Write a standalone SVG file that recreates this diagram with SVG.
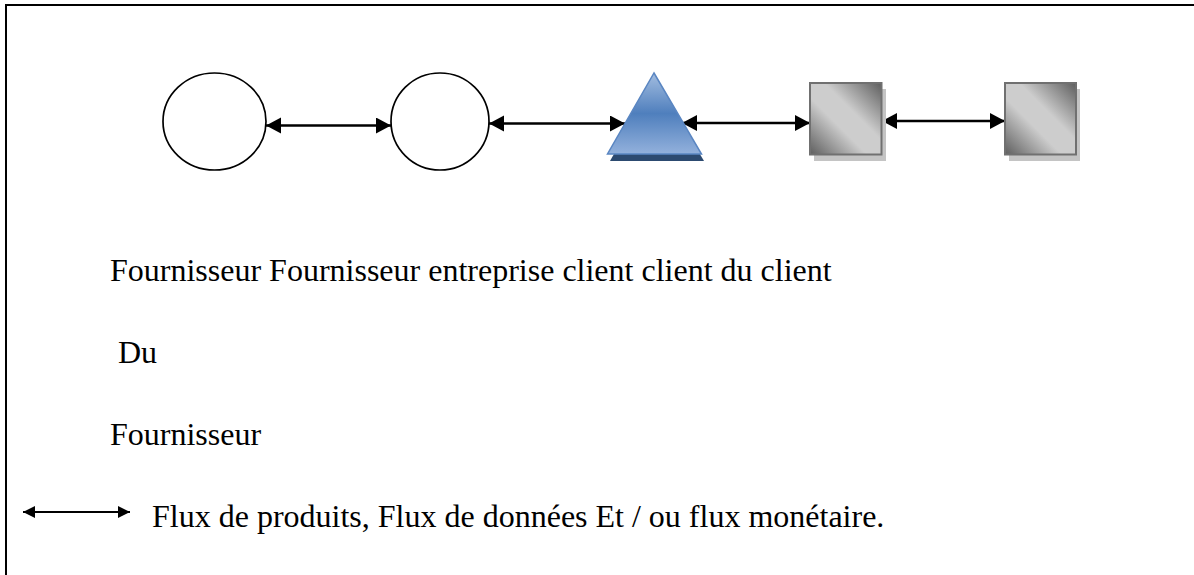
<svg xmlns="http://www.w3.org/2000/svg" width="1194" height="575" viewBox="0 0 1194 575">
<style>
  .lbl { font-family: "Liberation Serif", "Times New Roman", serif; font-size: 32px; fill: #000; }
  .conn { stroke: #000; stroke-width: 2.6; fill: none; marker-start: url(#ah); marker-end: url(#ah); }
  .circ { fill: #fff; stroke: #000; stroke-width: 1.7; }
  .sq { fill: url(#gray); stroke: #707070; stroke-width: 2; }
  .sqsh { fill: #c4c4c4; }
</style>
<defs>
  <marker id="ah" markerUnits="userSpaceOnUse" markerWidth="17" markerHeight="17" refX="15" refY="8" orient="auto-start-reverse">
    <path d="M0,0 L15,8 L0,16 z" fill="#000"/>
  </marker>
  <marker id="ahs" markerUnits="userSpaceOnUse" markerWidth="14" markerHeight="14" refX="12" refY="6" orient="auto-start-reverse">
    <path d="M0,0 L12,6 L0,12 z" fill="#000"/>
  </marker>
  <linearGradient id="gray" x1="1" y1="0" x2="0" y2="1">
    <stop offset="0" stop-color="#5e5e5e"/>
    <stop offset="0.4" stop-color="#cdcdcd"/>
    <stop offset="0.6" stop-color="#cdcdcd"/>
    <stop offset="1" stop-color="#5e5e5e"/>
  </linearGradient>
  <linearGradient id="blue" x1="0" y1="0" x2="0" y2="1">
    <stop offset="0" stop-color="#a3bde0"/>
    <stop offset="0.5" stop-color="#4f7fbd"/>
    <stop offset="1" stop-color="#93b1dc"/>
  </linearGradient>
</defs>

<path d="M6,575 L6,5 L1194,5" fill="none" stroke="#000" stroke-width="2"/>

<g id="connectors">
  <line class="conn" x1="266" y1="125.5" x2="391" y2="125.5"/>
  <line class="conn" x1="489" y1="123.5" x2="625" y2="123.5"/>
  <line class="conn" x1="682" y1="123" x2="810" y2="123"/>
  <line class="conn" x1="882" y1="121" x2="1005" y2="121"/>
</g>

<g id="n1"><ellipse class="circ" cx="214.5" cy="121.5" rx="51.5" ry="48.5"/></g>
<g id="n2"><ellipse class="circ" cx="440" cy="121.5" rx="49" ry="48.5"/></g>
<g id="n3">
  <polygon points="656,80 704,161 610,161" fill="#2c4a70"/>
  <polygon points="654,73 701.5,154 607.5,154" fill="url(#blue)" stroke="#5a86c2" stroke-width="1.5"/>
</g>
<g id="n4">
  <rect class="sqsh" x="814" y="89" width="72" height="72"/>
  <rect class="sq" x="810" y="83" width="71.5" height="71.5"/>
</g>
<g id="n5">
  <rect class="sqsh" x="1009" y="89" width="71" height="72"/>
  <rect class="sq" x="1005" y="83" width="71" height="71.5"/>
</g>

<g id="texts">
  <text class="lbl" x="110" y="281">Fournisseur Fournisseur entreprise client client du client</text>
  <text class="lbl" x="110" y="363" xml:space="preserve"> Du</text>
  <text class="lbl" x="110" y="445">Fournisseur</text>
</g>

<g id="legend">
  <line x1="23" y1="512" x2="130" y2="512" stroke="#000" stroke-width="1.8" marker-start="url(#ahs)" marker-end="url(#ahs)"/>
  <text class="lbl" x="152" y="527">Flux de produits, Flux de données Et / ou flux monétaire.</text>
</g>
</svg>
